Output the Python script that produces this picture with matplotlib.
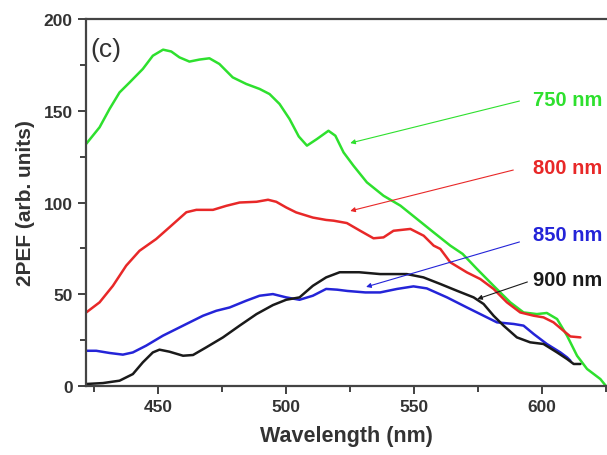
import numpy as np
import matplotlib.pyplot as plt
from matplotlib.ticker import MultipleLocator

plt.rcParams['font.family'] = ['Liberation Sans', 'DejaVu Sans']

# ── spectra (wavelength nm, 2PEF arb. units) ──
wl_750 = [422, 427.2, 431.1, 435, 438.9, 444.1, 448, 452, 455.2, 458.4, 462.3, 466.2,
          470.1, 474, 479.2, 484.5, 489.7, 493.6, 497.5, 501.4, 505, 508.2, 512.1,
          516.6, 519.3, 522.5, 526.4, 531.6, 538.1, 544.7, 551.2, 557.7, 564.2, 569,
          574.6, 581.1, 587.6, 592.8, 598, 601.9, 605.9, 609.8, 613.7, 617.6, 622.8, 625]
pef_750 = [132, 141, 151, 160, 165.4, 172.8, 180, 183.3, 182.3, 179.1, 176.8, 177.9,
           178.6, 175.5, 168.2, 164.6, 161.9, 159.1, 153.7, 145.5, 136, 131, 134.6,
           139.1, 136.4, 127.3, 120, 111, 103.7, 98.3, 91, 83.7, 76.5, 72,
           63.8, 54.6, 45.6, 40.1, 39.2, 39.8, 36.5, 27.4, 16.5, 9.3, 3.8, 0]

wl_800 = [422, 427.2, 432.4, 437.6, 442.8, 449.3, 454.5, 461.1, 465, 471.5, 476.7,
          481.9, 488.5, 493, 496.2, 500.1, 504, 510.5, 515.7, 518.6, 523.8, 529,
          534.2, 538.1, 542, 548.6, 553.8, 557.7, 560.3, 564.2, 570.7, 575.9, 581.1,
          586.3, 591.5, 596.8, 600.6, 604.5, 608.4, 611.1, 615]
pef_800 = [40.1, 45.6, 54.6, 65.6, 73.7, 80.1, 86.5, 94.7, 96, 96, 98.2,
           100, 100.4, 101.5, 100.4, 97.3, 94.6, 91.8, 90.5, 90.1, 88.8, 84.6,
           80.5, 81, 84.6, 85.6, 81.9, 76.5, 74.7, 67.4, 61.9, 58.3, 52.9,
           45.6, 40.1, 38.3, 37.4, 34.7, 30.1, 27, 26.5]

wl_850 = [422, 425.9, 431.1, 436.3, 440.2, 445.4, 451.9, 461.1, 467.6, 472.8, 478,
          484.5, 489.7, 494.9, 500.1, 505.3, 510.5, 515.7, 520, 524, 531, 536.8,
          543.4, 549.8, 555, 562.9, 570.7, 577.2, 582.4, 589, 592.8, 596.8, 601.9,
          607.2, 609.8, 611.1]
pef_850 = [19.2, 19.2, 18, 17.1, 18.3, 22, 27.4, 33.8, 38.3, 41, 42.8,
           46.5, 49.2, 50.1, 48.3, 47, 49.2, 52.9, 52.5, 51.8, 51, 51,
           52.9, 54.3, 53.2, 48.3, 42.8, 38.3, 34.7, 33.8, 32.9, 28.3, 22.9,
           18.3, 15.6, 13.8]

wl_900 = [422, 428.5, 435, 440.2, 444.1, 448, 450.6, 454.5, 459.8, 463.7, 468.9,
          475.4, 481.9, 488.5, 494.9, 500.1, 505.3, 510.5, 515.7, 521, 528.6, 536.8,
          547.2, 553.7, 560.3, 566.8, 573.3, 577.2, 581.1, 585, 590.2, 595.4, 600.6,
          605.9, 609.8, 612.4, 615]
pef_900 = [1.1, 1.6, 2.9, 6.5, 12.9, 18.3, 19.8, 18.7, 16.5, 16.9, 21.1,
           26.5, 32.9, 39.2, 44.1, 47, 48.3, 54.6, 59.2, 62, 62, 61,
           61, 59.2, 55.6, 51.9, 48.3, 44.7, 38.3, 32.9, 26.5, 23.8, 22.9,
           18.3, 14.7, 12, 12]

labels = ['750 nm', '800 nm', '850 nm', '900 nm']
colors = ['#2ee02e', '#e82828', '#2424d8', '#1a1a1a']
label_y = [156.4, 119.3, 82.8, 58.3]
arrow_from = [(591.2, 155.3), (588.8, 117.7), (591.2, 78.5), (594.3, 56.7)]
arrow_to = [(525.1, 132.4), (525.1, 95.4), (531.3, 54), (574.7, 47.4)]

fig = plt.figure(figsize=(6.07, 4.56), dpi=100)
ax = fig.add_axes([0.1417, 0.1513, 0.8583, 0.8048])

series = [(wl_750, pef_750), (wl_800, pef_800), (wl_850, pef_850), (wl_900, pef_900)]
for (wl, pef), c in zip(series, colors):
    ax.plot(wl, pef, color=c, lw=1.8, solid_capstyle='round', solid_joinstyle='round')

for lab, c, ty, start, tip in zip(labels, colors, label_y, arrow_from, arrow_to):
    ax.annotate('', xy=tip, xytext=start,
                arrowprops=dict(arrowstyle='-|>', color=c, lw=0.8,
                                mutation_scale=7, shrinkA=0, shrinkB=0))
    ax.text(623.6, ty, lab, color=c, fontsize=14.5, fontweight='bold',
            va='center', ha='right')

ax.text(423.5, 183.6, '(c)', fontsize=19, color='#333333', va='center', ha='left')

ax.set_xlim(421.9, 625.4)
ax.set_ylim(0, 200)
ax.xaxis.set_major_locator(MultipleLocator(50))
ax.xaxis.set_minor_locator(MultipleLocator(25))
ax.yaxis.set_major_locator(MultipleLocator(50))
ax.yaxis.set_minor_locator(MultipleLocator(25))
ax.tick_params(which='both', direction='out', width=1.3, color='#333333',
               labelsize=12.5, labelcolor='#333333')
ax.tick_params(which='major', length=6)
ax.tick_params(which='minor', length=4)
for lbl in ax.get_xticklabels() + ax.get_yticklabels():
    lbl.set_fontweight('bold')

for side in ['left', 'bottom', 'top']:
    ax.spines[side].set_linewidth(1.6)
    ax.spines[side].set_color('#444444')
ax.spines['right'].set_visible(False)

ax.set_xlabel('Wavelength (nm)', fontsize=15.5, fontweight='bold', color='#333333', labelpad=8)
ax.set_ylabel('2PEF (arb. units)', fontsize=15, fontweight='bold', color='#333333', labelpad=6)

fig.savefig('out.png', dpi=100)
